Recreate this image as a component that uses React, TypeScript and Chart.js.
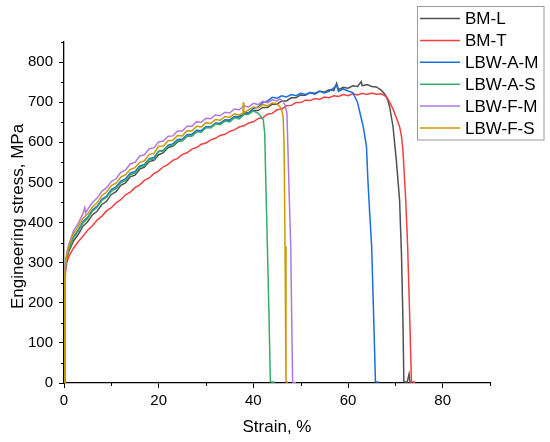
import React, { useEffect, useRef } from "react";
import { Chart, registerables } from "chart.js";

Chart.register(...registerables);

const seriesNames = ["BM-L", "BM-T", "LBW-A-M", "LBW-A-S", "LBW-F-M", "LBW-F-S"];
const seriesColors = ["#515151", "#F14040", "#1A6FDF", "#37AD6B", "#B177DE", "#CC9900"];

const bmLStrain = [0, 0.1, 0.2, 0.35, 0.6, 1, 2, 3, 4, 5, 6, 7, 8, 9, 10, 11, 12, 13, 14, 15, 16, 17, 18, 19, 20, 21, 22, 23, 24, 25, 26, 27, 28, 29, 30, 31, 32, 33, 34, 35, 36, 37, 38, 39, 40, 41, 42, 43, 44, 45, 46, 47, 48, 49, 50, 51, 52, 53, 54, 55, 56, 57, 57.6, 58, 59, 60, 61, 62, 62.8, 63, 64, 65, 66, 67, 67.8, 68.4, 68.8, 69.5, 70.2, 70.9, 71.3, 71.6, 71.8, 72.5, 72.9, 73.1, 73.6];
const bmLStress = [0, 140, 255, 290, 310, 327, 354, 370, 391, 402, 419, 428, 445, 453, 470, 477, 493, 499, 514, 518, 533, 538, 552, 555, 569, 574, 587, 590, 601, 604, 615, 616, 626, 628, 637, 638, 647, 647, 655, 655, 663, 663, 671, 671, 679, 679, 687, 687, 695, 695, 703, 703, 711, 711, 718, 717, 724, 722, 728, 725, 731, 729, 747, 731, 737, 735, 741, 739, 751, 741, 744, 739, 738, 730, 720, 705, 688, 640, 556, 456, 320, 160, 3, 2, 22, 2, 1];

const bmTStrain = [0, 0.1, 0.2, 0.35, 0.6, 1, 2, 3, 4, 5, 6, 7, 8, 9, 10, 11, 12, 13, 14, 15, 16, 17, 18, 19, 20, 21, 22, 23, 24, 25, 26, 27, 28, 29, 30, 31, 32, 33, 34, 35, 36, 37, 38, 39, 40, 41, 42, 43, 44, 45, 46, 47, 48, 49, 50, 51, 52, 53, 54, 55, 56, 57, 58, 59, 60, 61, 62, 63, 64, 65, 66, 67, 68.1, 68.8, 69.5, 70.2, 70.9, 71.3, 71.6, 72.0, 72.2, 72.6, 73.0, 73.4, 74.2];
const bmTStress = [0, 130, 240, 280, 300, 315, 336, 352, 366, 381, 392, 406, 416, 429, 437, 449, 457, 469, 476, 487, 494, 505, 511, 522, 529, 539, 545, 555, 560, 570, 574, 583, 587, 595, 598, 606, 610, 617, 620, 627, 631, 638, 641, 648, 651, 659, 661, 670, 672, 681, 683, 691, 692, 699, 699, 705, 704, 709, 707, 713, 711, 716, 714, 719, 716, 721, 718, 722, 719, 723, 720, 721, 714, 700, 683, 662, 639, 615, 581, 498, 456, 340, 180, 3, 2];

const lbwAMStrain = [0, 0.1, 0.2, 0.35, 0.6, 1, 2, 3, 4, 5, 6, 7, 8, 9, 10, 11, 12, 13, 14, 15, 16, 17, 18, 19, 20, 21, 22, 23, 24, 25, 26, 27, 28, 29, 30, 31, 32, 33, 34, 35, 36, 37, 38, 39, 40, 41, 42, 43, 44, 45, 46, 47, 48, 49, 50, 51, 52, 53, 54, 55, 56, 57.6, 58, 59, 60, 61, 62, 62.6, 63.2, 63.9, 64.2, 64.6, 65, 65.4, 65.8, 66.5];
const lbwAMStress = [0, 140, 262, 297, 316, 334, 364, 381, 402, 413, 431, 441, 458, 466, 482, 489, 503, 509, 523, 527, 541, 545, 559, 562, 578, 580, 593, 596, 607, 608, 619, 620, 630, 629, 639, 638, 648, 647, 656, 655, 664, 664, 673, 674, 684, 688, 699, 703, 712, 710, 716, 713, 719, 716, 722, 719, 724, 720, 727, 723, 727, 741, 727, 733, 728, 724, 700, 670, 640, 590, 506, 420, 340, 174, 3, 2];

const lbwASStrain = [0, 0.1, 0.2, 0.35, 0.6, 1, 2, 3, 4, 5, 6, 7, 8, 9, 10, 11, 12, 13, 14, 15, 16, 17, 18, 19, 20, 21, 22, 23, 24, 25, 26, 27, 28, 29, 30, 31, 32, 33, 34, 35, 36, 37, 38, 39, 40, 41, 42.1, 42.4, 42.6, 42.8, 43.3, 43.6, 44.5];
const lbwASStress = [0, 140, 260, 295, 315, 332, 362, 378, 399, 410, 428, 438, 455, 463, 478, 485, 499, 505, 519, 523, 538, 541, 557, 558, 577, 578, 591, 592, 604, 604, 616, 615, 627, 625, 637, 636, 646, 644, 653, 651, 661, 658, 669, 670, 678, 673, 656, 623, 520, 424, 174, 3, 2];

const lbwFMStrain = [0, 0.1, 0.2, 0.35, 0.6, 1, 2, 3, 4, 4.4, 4.6, 5, 6, 7, 8, 9, 10, 11, 12, 13, 14, 15, 16, 17, 18, 19, 20, 21, 22, 23, 24, 25, 26, 27, 28, 29, 30, 31, 32, 33, 34, 35, 36, 37, 38, 39, 40, 41, 42, 43, 44, 45, 45.6, 46.2, 46.7, 47.1, 47.3, 47.6, 47.9, 48.1, 48.3, 49];
const lbwFMStress = [0, 150, 270, 305, 325, 345, 379, 398, 422, 437, 424, 433, 450, 461, 478, 487, 502, 509, 525, 531, 546, 550, 566, 569, 584, 586, 601, 603, 615, 616, 628, 628, 640, 640, 651, 650, 660, 659, 668, 666, 675, 673, 683, 681, 691, 688, 697, 694, 702, 699, 706, 703, 708, 703, 693, 672, 589, 460, 340, 170, 2, 1];

const lbwFSStrain = [0, 0.1, 0.2, 0.35, 0.6, 1, 2, 3, 4, 5, 6, 7, 8, 9, 10, 11, 12, 13, 14, 15, 16, 17, 18, 19, 20, 21, 22, 23, 24, 25, 26, 27, 28, 29, 30, 31, 32, 33, 34, 35, 36, 37, 37.8, 37.9, 38.0, 39, 40, 41, 42, 43, 44, 44.9, 45.9, 46.3, 46.5, 46.7, 46.9, 47.3];
const lbwFSStress = [0, 145, 265, 300, 320, 340, 372, 390, 411, 421, 439, 449, 467, 476, 492, 498, 513, 519, 532, 537, 550, 554, 570, 572, 590, 591, 604, 605, 617, 616, 629, 628, 640, 638, 649, 647, 657, 655, 664, 662, 671, 668, 672, 700, 674, 681, 688, 686, 694, 691, 698, 697, 685, 664, 589, 340, 3, 2];

const xTickValues = [0, 20, 40, 60, 80];
const xMinorValues = [10, 30, 50, 70, 90];
const yTickValues = [0, 100, 200, 300, 400, 500, 600, 700, 800];
const yMinorValues = [50, 150, 250, 350, 450, 550, 650, 750, 850];

const xTitle = "Strain, %";
const yTitle = "Engineering stress, MPa";

const seriesStrains = [bmLStrain, bmTStrain, lbwAMStrain, lbwASStrain, lbwFMStrain, lbwFSStrain];
const seriesStresses = [bmLStress, bmTStress, lbwAMStress, lbwASStress, lbwFMStress, lbwFSStress];

const FONT = "'Liberation Sans', Arial, sans-serif";

const extrasPlugin = {
  id: "extras",
  afterDraw(chart: any) {
    const ctx = chart.ctx;
    const area = chart.chartArea;
    const xs = chart.scales.x;
    const ys = chart.scales.y;
    ctx.save();
    ctx.strokeStyle = "#000";
    ctx.lineWidth = 1;
    ctx.beginPath();
    xMinorValues.forEach((v) => {
      const px = Math.round(xs.getPixelForValue(v)) + 0.5;
      ctx.moveTo(px, area.bottom);
      ctx.lineTo(px, area.bottom + 3);
    });
    yMinorValues.forEach((v) => {
      const py = Math.round(ys.getPixelForValue(v)) + 0.5;
      ctx.moveTo(area.left, py);
      ctx.lineTo(area.left - 3, py);
    });
    ctx.stroke();

    // y-axis title
    ctx.save();
    ctx.translate(18.2, 216.5);
    ctx.rotate(-Math.PI / 2);
    ctx.font = `17px ${FONT}`;
    ctx.fillStyle = "#000";
    ctx.textAlign = "center";
    ctx.textBaseline = "middle";
    ctx.fillText(yTitle, 0, 0);
    ctx.restore();

    // legend
    const bx = 417.5, by = 6.5, bw = 126.5, bh = 133.5;
    ctx.fillStyle = "#fff";
    ctx.fillRect(bx, by, bw, bh);
    ctx.strokeStyle = "#9a9a9a";
    ctx.lineWidth = 1;
    ctx.strokeRect(bx, by, bw, bh);
    ctx.font = `17px ${FONT}`;
    ctx.textBaseline = "middle";
    ctx.textAlign = "left";
    seriesNames.forEach((name, i) => {
      const y = 18.5 + i * 21.9;
      ctx.strokeStyle = seriesColors[i];
      ctx.lineWidth = 1.5;
      ctx.beginPath();
      ctx.moveTo(420, y);
      ctx.lineTo(460, y);
      ctx.stroke();
      ctx.fillStyle = "#000";
      ctx.fillText(name, 465, y + 1);
    });
    ctx.restore();
  },
};

export default function App() {
  const canvasRef = useRef<HTMLCanvasElement | null>(null);

  useEffect(() => {
    if (!canvasRef.current) return;
    const datasets = seriesNames.map((name, i) => ({
      label: name,
      data: seriesStrains[i].map((x, j) => ({ x, y: seriesStresses[i][j] })),
      borderColor: seriesColors[i],
      backgroundColor: seriesColors[i],
      borderWidth: 1.5,
      pointRadius: 0,
      showLine: true,
      fill: false,
      tension: 0,
      order: seriesNames.length - i,
    }));

    const chart = new Chart(canvasRef.current, {
      type: "scatter",
      data: { datasets },
      plugins: [extrasPlugin],
      options: {
        animation: false,
        responsive: false,
        devicePixelRatio: 1,
        layout: { padding: { top: 42, right: 60, left: 0, bottom: 0 } },
        plugins: { legend: { display: false }, tooltip: { enabled: false } },
        scales: {
          x: {
            type: "linear",
            min: 0,
            max: 90,
            afterFit: (s: any) => { s.height = 59; },
            afterBuildTicks: (s: any) => { s.ticks = xTickValues.map((v) => ({ value: v })); },
            ticks: { color: "#000", font: { family: FONT, size: 15 }, padding: 4, includeBounds: false, maxRotation: 0 },
            grid: { drawOnChartArea: false, tickLength: 5, color: "#000", lineWidth: 1 },
            border: { display: true, color: "#000", width: 1.3 },
            title: { display: true, text: xTitle, color: "#000", font: { family: FONT, size: 17 }, padding: { top: 0, bottom: 4 } },
          },
          y: {
            type: "linear",
            min: 0,
            max: 850,
            afterFit: (s: any) => { s.width = 64; },
            afterBuildTicks: (s: any) => { s.ticks = yTickValues.map((v) => ({ value: v })); },
            ticks: { color: "#000", font: { family: FONT, size: 15 }, padding: 6, includeBounds: false },
            grid: { drawOnChartArea: false, tickLength: 5, color: "#000", lineWidth: 1 },
            border: { display: true, color: "#000", width: 1.3 },
            title: { display: false, text: yTitle },
          },
        },
      },
    } as any);
    return () => chart.destroy();
  }, []);

  return (
    <div style={{ position: "absolute", left: 0, top: 0, width: 550, height: 442, background: "#fff" }}>
      <canvas ref={canvasRef} width={550} height={442} style={{ width: 550, height: 442, display: "block" }} />
    </div>
  );
}
